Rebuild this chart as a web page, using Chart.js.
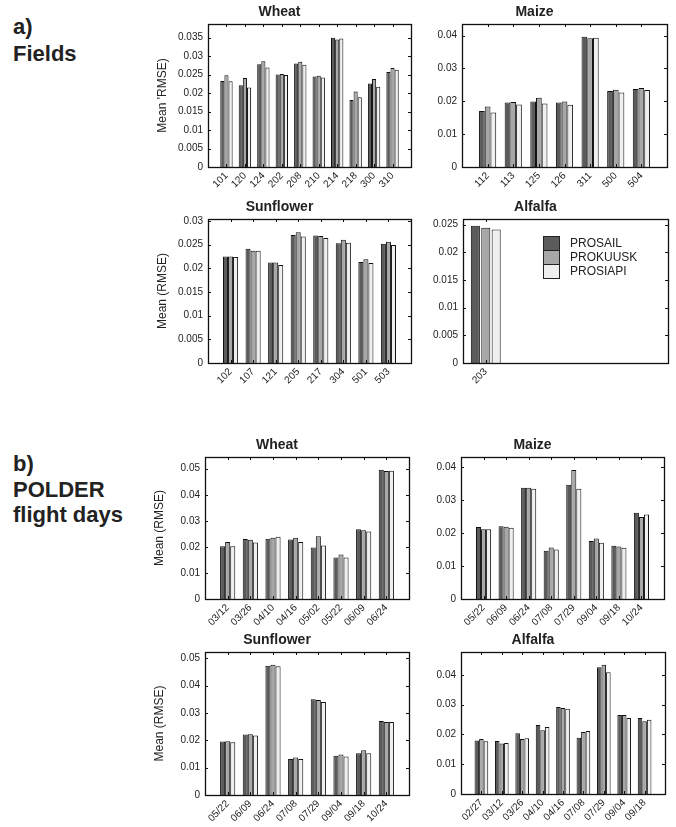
<!DOCTYPE html>
<html>
<head>
<meta charset="utf-8">
<script src="https://cdn.jsdelivr.net/npm/chart.js@4.4.1/dist/chart.umd.min.js"></script>
<style>
  html, body { margin: 0; padding: 0; background: #fff; }
  body { width: 676px; height: 827px; position: relative; overflow: hidden;
         font-family: "Liberation Sans", Arial, Helvetica, sans-serif; }
  canvas { position: absolute; }
  .tag { position: absolute; left: 13px; font-weight: bold; font-size: 22px; color: #222; }
</style>
</head>
<body>
<div class="tag" style="top:13px; line-height:27px">a)<br>Fields</div>
<div class="tag" style="top:451px; line-height:25.5px">b)<br>POLDER<br>flight days</div>

<canvas id="c1"></canvas>
<canvas id="c2"></canvas>
<canvas id="c3"></canvas>
<canvas id="c4"></canvas>
<canvas id="c5"></canvas>
<canvas id="c6"></canvas>
<canvas id="c7"></canvas>
<canvas id="c8"></canvas>

<script>
// Models compared in every panel
const modelNames = ['PROSAIL', 'PROKUUSK', 'PROSIAPI'];
const barColors = ['#5b5b5b', '#a7a7a7', '#efefef'];

// a) Mean RMSE per field
const wheatFields = ['101', '120', '124', '202', '208', '210', '214', '218', '300', '310'];
const wheatFieldsSail  = [0.0233, 0.0221, 0.0278, 0.0250, 0.0280, 0.0245, 0.0350, 0.0181, 0.0226, 0.0257];
const wheatFieldsKuusk = [0.0248, 0.0241, 0.0286, 0.0252, 0.0285, 0.0247, 0.0345, 0.0204, 0.0238, 0.0268];
const wheatFieldsSiapi = [0.0232, 0.0215, 0.0269, 0.0249, 0.0277, 0.0242, 0.0348, 0.0189, 0.0217, 0.0263];

const maizeFields = ['112', '113', '125', '126', '311', '500', '504'];
const maizeFieldsSail  = [0.0170, 0.0196, 0.0199, 0.0196, 0.0396, 0.0231, 0.0237];
const maizeFieldsKuusk = [0.0184, 0.0198, 0.0211, 0.0199, 0.0392, 0.0235, 0.0240];
const maizeFieldsSiapi = [0.0166, 0.0190, 0.0193, 0.0189, 0.0393, 0.0227, 0.0234];

const sunflowerFields = ['102', '107', '121', '205', '217', '304', '501', '503'];
const sunflowerFieldsSail  = [0.0225, 0.0241, 0.0212, 0.0270, 0.0269, 0.0253, 0.0213, 0.0252];
const sunflowerFieldsKuusk = [0.0225, 0.0237, 0.0212, 0.0276, 0.0268, 0.0260, 0.0219, 0.0256];
const sunflowerFieldsSiapi = [0.0224, 0.0237, 0.0207, 0.0267, 0.0264, 0.0254, 0.0211, 0.0249];

const alfalfaFields = ['203'];
const alfalfaFieldsSail  = [0.0248];
const alfalfaFieldsKuusk = [0.0244];
const alfalfaFieldsSiapi = [0.0241];

// b) Mean RMSE per POLDER flight day
const wheatDays = ['03/12', '03/26', '04/10', '04/16', '05/02', '05/22', '06/09', '06/24'];
const wheatDaysSail  = [0.0202, 0.0230, 0.0231, 0.0228, 0.0198, 0.0159, 0.0268, 0.0496];
const wheatDaysKuusk = [0.0219, 0.0227, 0.0235, 0.0235, 0.0241, 0.0171, 0.0264, 0.0491];
const wheatDaysSiapi = [0.0202, 0.0217, 0.0239, 0.0219, 0.0205, 0.0159, 0.0259, 0.0492];

const maizeDays = ['05/22', '06/09', '06/24', '07/08', '07/29', '09/04', '09/18', '10/24'];
const maizeDaysSail  = [0.0218, 0.0220, 0.0337, 0.0146, 0.0346, 0.0176, 0.0161, 0.0261];
const maizeDaysKuusk = [0.0211, 0.0219, 0.0337, 0.0156, 0.0391, 0.0183, 0.0159, 0.0248];
const maizeDaysSiapi = [0.0211, 0.0216, 0.0334, 0.0150, 0.0334, 0.0170, 0.0155, 0.0256];

const sunflowerDays = ['05/22', '06/09', '06/24', '07/08', '07/29', '09/04', '09/18', '10/24'];
const sunflowerDaysSail  = [0.0196, 0.0221, 0.0473, 0.0132, 0.0350, 0.0144, 0.0153, 0.0271];
const sunflowerDaysKuusk = [0.0197, 0.0222, 0.0476, 0.0137, 0.0347, 0.0148, 0.0164, 0.0267];
const sunflowerDaysSiapi = [0.0193, 0.0218, 0.0471, 0.0132, 0.0340, 0.0141, 0.0153, 0.0267];

const alfalfaDays = ['02/27', '03/12', '03/26', '04/10', '04/16', '07/08', '07/29', '09/04', '09/18'];
const alfalfaDaysSail  = [0.0180, 0.0178, 0.0204, 0.0232, 0.0292, 0.0189, 0.0426, 0.0265, 0.0255];
const alfalfaDaysKuusk = [0.0185, 0.0170, 0.0185, 0.0214, 0.0289, 0.0208, 0.0434, 0.0265, 0.0244];
const alfalfaDaysSiapi = [0.0177, 0.0171, 0.0187, 0.0225, 0.0286, 0.0212, 0.0409, 0.0255, 0.0249];

// Axis limits and tick steps of each panel
const yMaxes = [0.0387, 0.0435, 0.0304, 0.0260, 0.0545, 0.0430, 0.0523, 0.0477];
const ySteps = [0.005, 0.01, 0.005, 0.005, 0.01, 0.01, 0.01, 0.01];

const AXIS_W = 60, TITLE_H = 24, XAXIS_H = 40, PAD_R = 4;
const INK = '#222';

// MATLAB-style box: full frame with inward ticks on all four sides
const frameTicks = {
  id: 'frameTicks',
  afterDatasetsDraw(chart) {
    const { ctx, chartArea: a, scales: { x, y } } = chart;
    const t = 3;
    ctx.save();
    ctx.strokeStyle = '#111';
    ctx.lineWidth = 1;
    ctx.beginPath();
    y.ticks.forEach(tk => {
      const py = Math.round(y.getPixelForValue(tk.value)) + 0.5;
      ctx.moveTo(a.left, py); ctx.lineTo(a.left + t, py);
      ctx.moveTo(a.right, py); ctx.lineTo(a.right - t, py);
    });
    x.getLabels().forEach((lab, i) => {
      if (!lab) return;
      const px = Math.round(x.getPixelForValue(i)) + 0.5;
      ctx.moveTo(px, a.top); ctx.lineTo(px, a.top + t);
      ctx.moveTo(px, a.bottom); ctx.lineTo(px, a.bottom - t);
    });
    ctx.stroke();
    ctx.lineWidth = 1.3;
    ctx.strokeRect(a.left + 0.5, a.top + 0.5, a.right - a.left, a.bottom - a.top);
    ctx.restore();
  }
};

// Stacked swatch legend drawn inside the plot box
const boxLegend = {
  id: 'boxLegend',
  afterDraw(chart, args, opts) {
    if (!opts.show) return;
    const { ctx, chartArea: a } = chart;
    const x0 = a.left + opts.dx, y0 = a.top + opts.dy, w = 16, h = 14;
    ctx.save();
    ctx.font = '12px "Liberation Sans", Arial, sans-serif';
    ctx.textBaseline = 'middle';
    chart.data.datasets.forEach((ds, i) => {
      const yy = y0 + i * h;
      ctx.fillStyle = ds.backgroundColor;
      ctx.fillRect(x0, yy, w, h);
      ctx.strokeStyle = '#222';
      ctx.lineWidth = 1;
      ctx.strokeRect(x0 + 0.5, yy + 0.5, w, h);
      ctx.fillStyle = INK;
      ctx.fillText(ds.label, x0 + w + 11, yy + h / 2 + 1);
    });
    ctx.restore();
  }
};

function fmtTick(v) {
  return String(parseFloat(Number(v).toFixed(4)));
}

function makePanel(id, rect, title, cats, series, idx, yLabel, extra) {
  extra = extra || {};
  const canvas = document.getElementById(id);
  const W = rect.R - rect.L, H = rect.B - rect.T;
  const cw = W + AXIS_W + PAD_R, ch = H + TITLE_H + XAXIS_H;
  canvas.width = cw; canvas.height = ch;
  canvas.style.width = cw + 'px'; canvas.style.height = ch + 'px';
  canvas.style.left = (rect.L - AXIS_W) + 'px';
  canvas.style.top = (rect.T - TITLE_H) + 'px';

  // empty slots at both ends give the 0 .. n+1 x-limits
  const labels = ['', ...cats, ''];
  const datasets = series.map((vals, k) => ({
    label: modelNames[k],
    data: [null, ...vals, null],
    backgroundColor: barColors[k],
    borderColor: '#111',
    borderWidth: 1,
    categoryPercentage: extra.catPct || 0.67,
    barPercentage: extra.barPct || 1.0
  }));

  return new Chart(canvas, {
    type: 'bar',
    data: { labels, datasets },
    options: {
      responsive: false,
      animation: false,
      layout: { padding: { left: 0, top: 0, right: PAD_R, bottom: 0 } },
      plugins: {
        legend: { display: false },
        tooltip: { enabled: false },
        title: {
          display: true, text: title, color: INK,
          font: { size: 14, weight: 'bold', family: '"Liberation Sans", Arial, sans-serif', lineHeight: '16px' },
          padding: { top: 4, bottom: 4 }
        },
        boxLegend: extra.legend || { show: false }
      },
      scales: {
        x: {
          offset: false,
          afterFit(s) { s.height = XAXIS_H; s.paddingLeft = 0; s.paddingRight = 0; },
          grid: { display: false, drawTicks: false },
          border: { display: false },
          ticks: {
            autoSkip: false, minRotation: 45, maxRotation: 45, padding: 3, color: INK,
            font: { size: 10, family: '"Liberation Sans", Arial, sans-serif' }
          }
        },
        y: {
          min: 0, max: yMaxes[idx],
          afterFit(s) { s.width = AXIS_W; },
          grid: { display: false, drawTicks: false },
          border: { display: false },
          ticks: {
            stepSize: ySteps[idx], includeBounds: false, padding: 5, color: INK,
            font: { size: 10, family: '"Liberation Sans", Arial, sans-serif' },
            callback: v => fmtTick(v)
          },
          title: {
            display: !!yLabel, text: yLabel, color: INK,
            font: { size: 12, family: '"Liberation Sans", Arial, sans-serif' },
            padding: { top: 7, bottom: 0 }
          }
        }
      }
    },
    plugins: [frameTicks, boxLegend]
  });
}

makePanel('c1', { L: 208, T: 24, R: 411, B: 167 }, 'Wheat', wheatFields,
  [wheatFieldsSail, wheatFieldsKuusk, wheatFieldsSiapi], 0, "Mean 'RMSE)");
makePanel('c2', { L: 462, T: 24, R: 667, B: 167 }, 'Maize', maizeFields,
  [maizeFieldsSail, maizeFieldsKuusk, maizeFieldsSiapi], 1, '');
makePanel('c3', { L: 208, T: 219, R: 411, B: 363 }, 'Sunflower', sunflowerFields,
  [sunflowerFieldsSail, sunflowerFieldsKuusk, sunflowerFieldsSiapi], 2, 'Mean (RMSE)');
// single field, padded to the same x-limits as the sunflower panel
makePanel('c4', { L: 463, T: 219, R: 668, B: 363 }, 'Alfalfa',
  [...alfalfaFields, '', '', '', '', '', '', ''],
  [alfalfaFieldsSail, alfalfaFieldsKuusk, alfalfaFieldsSiapi].map(a => [...a, null, null, null, null, null, null, null]),
  3, '', { catPct: 1.37, barPct: 0.87, legend: { show: true, dx: 80, dy: 17 } });

makePanel('c5', { L: 205, T: 457, R: 409, B: 599 }, 'Wheat', wheatDays,
  [wheatDaysSail, wheatDaysKuusk, wheatDaysSiapi], 4, 'Mean (RMSE)');
makePanel('c6', { L: 461, T: 457, R: 664, B: 599 }, 'Maize', maizeDays,
  [maizeDaysSail, maizeDaysKuusk, maizeDaysSiapi], 5, '');
makePanel('c7', { L: 205, T: 652, R: 409, B: 795 }, 'Sunflower', sunflowerDays,
  [sunflowerDaysSail, sunflowerDaysKuusk, sunflowerDaysSiapi], 6, 'Mean (RMSE)');
makePanel('c8', { L: 461, T: 652, R: 665, B: 794 }, 'Alfalfa', alfalfaDays,
  [alfalfaDaysSail, alfalfaDaysKuusk, alfalfaDaysSiapi], 7, '');
</script>
</body>
</html>
